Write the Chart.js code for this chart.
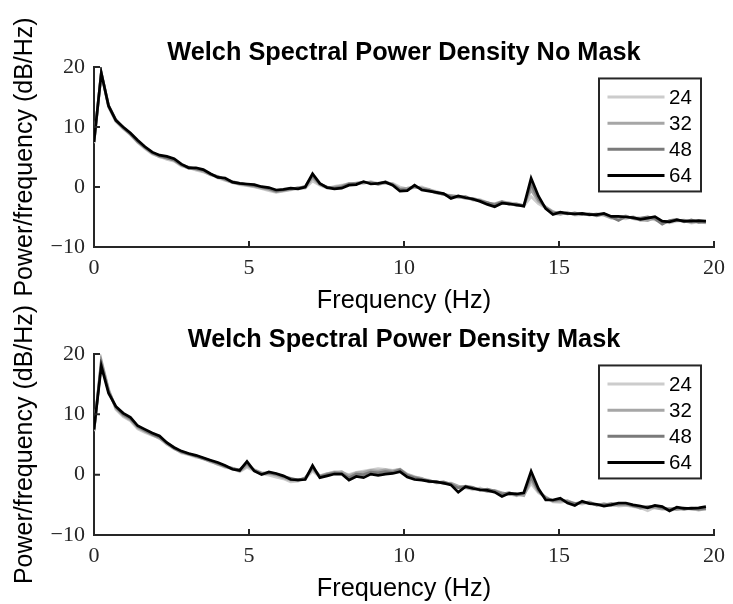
<!DOCTYPE html>
<html>
<head>
<meta charset="utf-8">
<script src="https://cdn.jsdelivr.net/npm/chart.js@4.4.1/dist/chart.umd.min.js"></script>
<style>
  body { margin: 0; background: #fff; }
  #wrap { position: relative; width: 733px; height: 604px; }
  canvas { position: absolute; left: 0; }
</style>
</head>
<body>
<div id="wrap">
  <canvas id="topChart" width="733" height="316" style="top:0"></canvas>
  <canvas id="bottomChart" width="733" height="308" style="top:296px"></canvas>
</div>
<script>
// frequency bins (Hz)
const freq = [
  0, 0.235, 0.47, 0.705, 0.94, 1.175, 1.41, 1.645, 1.88, 2.115,
  2.35, 2.585, 2.82, 3.055, 3.29, 3.525, 3.76, 3.995, 4.23, 4.465,
  4.7, 4.935, 5.17, 5.405, 5.64, 5.875, 6.11, 6.345, 6.58, 6.815,
  7.05, 7.285, 7.52, 7.755, 7.99, 8.225, 8.46, 8.695, 8.93, 9.165,
  9.4, 9.635, 9.87, 10.105, 10.34, 10.575, 10.81, 11.045, 11.28, 11.515,
  11.75, 11.985, 12.22, 12.455, 12.69, 12.925, 13.16, 13.395, 13.63, 13.865,
  14.1, 14.335, 14.57, 14.805, 15.04, 15.275, 15.51, 15.745, 15.98, 16.215,
  16.45, 16.685, 16.92, 17.155, 17.39, 17.625, 17.86, 18.095, 18.33, 18.565,
  18.8, 19.035, 19.27, 19.505, 19.74
];

const seriesNames = ["24", "32", "48", "64"];
const lineColors = ["#cccccc", "#a6a6a6", "#7a7a7a", "#000000"];
const xTicks = [0, 5, 10, 15, 20];
const yTicks = [-10, 0, 10, 20];

// No Mask
const noMask24 = [
  7.3, 18.9, 13.3, 10.9, 9.7, 8.7, 7.4, 6.4, 5.5, 5.1,
  4.6, 4.3, 3.5, 3.2, 2.8, 2.5, 2.1, 1.5, 1.1, 0.8,
  0.4, 0.2, 0.0, -0.3, -0.6, -0.9, -0.7, -0.5, -0.3, -0.2,
  1.0, 0.3, -0.2, 0.1, 0.3, 0.4, 0.7, 0.6, 0.9, 0.6,
  0.6, 0.6, 0.0, -0.3, -0.1, 0.0, -0.5, -0.7, -1.2, -1.5,
  -1.5, -1.7, -2.2, -2.1, -2.6, -2.9, -2.6, -2.6, -2.9, -3.2,
  -1.6, -2.8, -3.5, -4.4, -4.6, -4.2, -4.7, -4.6, -4.4, -4.7,
  -4.6, -5.1, -5.2, -5.3, -4.9, -5.6, -5.3, -5.5, -5.8, -6.0,
  -5.7, -5.6, -6.0, -5.8, -6.0
];
const noMask32 = [
  7.4, 19.0, 13.4, 11.0, 9.8, 8.9, 7.5, 6.5, 5.6, 5.0,
  4.9, 4.4, 3.6, 3.1, 3.0, 2.6, 2.0, 1.8, 1.2, 0.7,
  0.5, 0.3, 0.1, -0.2, -0.4, -0.8, -0.6, -0.4, -0.1, -0.1,
  1.5, 0.4, -0.1, 0.0, 0.2, 0.6, 0.5, 0.7, 0.8, 0.4,
  0.7, 0.5, -0.3, -0.2, 0.0, -0.2, -0.4, -0.9, -1.3, -1.4,
  -1.6, -1.9, -1.9, -2.2, -2.7, -2.8, -2.4, -2.7, -3.1, -3.0,
  -0.5, -2.4, -3.3, -4.1, -4.5, -4.3, -4.6, -4.4, -4.7, -4.5,
  -4.7, -5.2, -5.1, -4.8, -5.3, -5.5, -5.6, -5.1, -5.9, -5.7,
  -5.6, -5.5, -5.9, -5.7, -5.9
];
const noMask48 = [
  7.5, 19.0, 13.6, 11.2, 9.9, 8.8, 7.6, 6.6, 5.7, 5.2,
  4.8, 4.5, 3.7, 3.3, 3.0, 2.8, 2.1, 1.7, 1.3, 0.9,
  0.6, 0.4, 0.2, 0.0, -0.3, -0.7, -0.5, -0.3, -0.2, 0.1,
  1.9, 0.5, 0.0, -0.2, 0.0, 0.5, 0.6, 0.8, 0.7, 0.5,
  0.9, 0.4, -0.4, -0.5, 0.1, -0.3, -0.6, -1.0, -1.2, -1.6,
  -1.7, -1.6, -2.1, -2.3, -2.6, -3.0, -2.5, -2.9, -2.8, -3.1,
  0.4, -2.0, -3.5, -4.3, -4.3, -4.5, -4.3, -4.6, -4.5, -4.8,
  -4.5, -5.0, -5.6, -4.9, -5.2, -5.2, -5.0, -5.3, -6.2, -5.6,
  -5.4, -5.8, -5.5, -5.9, -5.8
];
const noMask64 = [
  7.5, 19.0, 13.5, 11.1, 10.0, 9.0, 7.8, 6.7, 5.8, 5.3,
  5.1, 4.7, 3.8, 3.2, 3.2, 2.9, 2.2, 1.6, 1.5, 0.8,
  0.6, 0.5, 0.4, 0.05, -0.1, -0.5, -0.4, -0.2, -0.3, 0.0,
  2.2, 0.6, -0.1, -0.3, -0.2, 0.3, 0.4, 0.9, 0.5, 0.6,
  0.8, 0.3, -0.7, -0.6, 0.3, -0.5, -0.7, -0.9, -1.1, -1.9,
  -1.5, -1.8, -2.0, -2.4, -2.9, -3.3, -2.7, -2.8, -3.0, -3.2,
  1.45, -1.5, -3.6, -4.6, -4.2, -4.4, -4.5, -4.4, -4.6, -4.6,
  -4.4, -4.9, -4.9, -5.0, -5.1, -5.4, -5.2, -4.95, -5.7, -5.8,
  -5.5, -5.7, -5.7, -5.6, -5.7
];

// Mask
const mask24 = [
  7.2, 19.0, 14.2, 10.8, 9.6, 8.9, 7.6, 7.0, 6.5, 6.1,
  5.0, 4.4, 3.6, 3.3, 2.9, 2.7, 2.1, 1.8, 1.2, 1.0,
  0.5, 1.2, 0.6, 0.1, -0.1, -0.4, -0.7, -1.2, -1.1, -0.7,
  0.6, -0.4, 0.1, 0.5, 0.3, 0.0, 0.4, 0.6, 0.8, 1.0,
  0.9, 0.7, 0.9, 0.1, -0.3, -0.7, -0.9, -1.4, -1.3, -1.5,
  -2.0, -2.1, -2.5, -2.2, -2.7, -2.9, -3.0, -3.2, -3.5, -3.3,
  -1.5, -3.0, -3.8, -4.5, -4.6, -4.4, -4.7, -4.9, -4.6, -4.9,
  -5.1, -4.9, -5.2, -5.1, -5.3, -5.5, -6.0, -5.4, -5.6, -5.9,
  -5.7, -5.8, -5.6, -5.9, -5.6
];
const mask32 = [
  7.3, 18.8, 14.0, 11.0, 9.8, 9.1, 7.8, 7.2, 6.6, 6.0,
  5.1, 4.3, 3.7, 3.5, 3.0, 2.6, 2.2, 1.7, 1.3, 1.1,
  0.6, 1.5, 0.8, 0.3, 0.2, -0.1, -0.5, -0.9, -1.0, -0.5,
  0.9, -0.2, 0.2, 0.4, 0.5, -0.2, 0.3, 0.4, 0.7, 0.6,
  0.8, 0.6, 0.9, 0.0, -0.4, -0.6, -1.2, -1.1, -1.5, -1.4,
  -1.9, -2.2, -2.3, -2.4, -2.8, -2.6, -3.0, -3.3, -3.2, -3.5,
  -0.9, -2.8, -3.7, -4.4, -4.4, -4.3, -4.9, -4.7, -4.5, -5.1,
  -4.8, -5.1, -5.0, -5.0, -5.1, -5.6, -5.4, -5.5, -5.7, -5.6,
  -5.8, -5.5, -5.7, -5.8, -5.7
];
const mask48 = [
  7.4, 18.5, 13.8, 11.2, 10.0, 9.3, 8.0, 7.3, 6.7, 6.2,
  5.3, 4.4, 3.8, 3.4, 3.1, 2.7, 2.3, 1.9, 1.4, 1.0,
  0.8, 1.9, 0.7, 0.2, 0.3, 0.1, -0.3, -0.6, -0.9, -0.6,
  1.2, -0.3, 0.0, 0.3, 0.2, -0.5, 0.1, 0.0, 0.4, 0.3,
  0.5, 0.4, 0.8, -0.1, -0.5, -0.8, -1.0, -1.3, -1.2, -1.6,
  -2.2, -1.9, -2.1, -2.6, -2.4, -2.7, -3.2, -3.0, -3.4, -3.1,
  -0.4, -2.6, -3.9, -4.3, -4.1, -4.5, -4.8, -4.6, -4.7, -5.0,
  -5.0, -4.8, -4.9, -4.8, -5.2, -5.4, -5.3, -5.2, -5.5, -5.8,
  -5.5, -5.7, -5.5, -5.7, -5.6
];
const mask64 = [
  7.5, 18.0, 13.5, 11.3, 10.2, 9.5, 8.1, 7.5, 6.9, 6.4,
  5.3, 4.5, 3.9, 3.5, 3.2, 2.8, 2.4, 2.0, 1.5, 0.9,
  0.7, 2.2, 0.6, 0.0, 0.45, 0.2, -0.2, -0.8, -0.85, -0.8,
  1.5, -0.5, -0.2, 0.1, 0.1, -0.9, -0.3, -0.5, 0.1, -0.1,
  0.1, 0.2, 0.5, -0.4, -0.8, -0.9, -1.1, -1.2, -1.4, -1.7,
  -2.9, -2.0, -2.3, -2.5, -2.6, -2.9, -3.6, -3.1, -3.2, -3.0,
  0.55, -2.3, -4.2, -4.2, -3.9, -4.7, -5.1, -4.4, -4.8, -4.9,
  -5.2, -5.0, -4.7, -4.7, -5.0, -5.2, -5.5, -5.1, -5.3, -6.0,
  -5.4, -5.6, -5.6, -5.5, -5.3
];

const axisColor = "#262626";
const sansFont = "'Liberation Sans', Arial, Helvetica, sans-serif";
const serifFont = "'Liberation Serif', 'Times New Roman', serif";

// ticks drawn inside the axes, like matlab
const inwardTicks = {
  id: "inwardTicks",
  afterDatasetsDraw(chart) {
    const { ctx, chartArea: a, scales: { x, y } } = chart;
    ctx.save();
    ctx.strokeStyle = axisColor;
    ctx.lineWidth = 2;
    ctx.beginPath();
    x.ticks.forEach(t => {
      const px = x.getPixelForValue(t.value);
      ctx.moveTo(px, a.bottom);
      ctx.lineTo(px, a.bottom - 6);
    });
    y.ticks.forEach(t => {
      const py = y.getPixelForValue(t.value);
      ctx.moveTo(a.left, py);
      ctx.lineTo(a.left + 6, py);
    });
    ctx.stroke();
    ctx.restore();
  }
};

// boxed legend with line samples, top right inside the axes
const lineLegend = {
  id: "lineLegend",
  afterDraw(chart) {
    const { ctx, chartArea: a } = chart;
    const w = 102, h = 113, rowH = 26.2;
    const x0 = a.right - 13 - w, y0 = a.top + 11.5;
    ctx.save();
    ctx.fillStyle = "#fff";
    ctx.fillRect(x0, y0, w, h);
    ctx.strokeStyle = axisColor;
    ctx.lineWidth = 2;
    ctx.strokeRect(x0, y0, w, h);
    ctx.font = "20.5px " + sansFont;
    ctx.textBaseline = "middle";
    chart.data.datasets.forEach((ds, i) => {
      const cy = y0 + 18.5 + i * rowH;
      ctx.strokeStyle = ds.borderColor;
      ctx.lineWidth = 3;
      ctx.beginPath();
      ctx.moveTo(x0 + 8.5, cy);
      ctx.lineTo(x0 + 65.5, cy);
      ctx.stroke();
      ctx.fillStyle = "#000";
      ctx.fillText(ds.label, x0 + 70, cy + 1);
    });
    ctx.restore();
  }
};

function makeSets(rows) {
  return seriesNames.map((name, i) => ({
    label: name,
    data: freq.map((f, k) => ({ x: f, y: rows[i][k] })),
    borderColor: lineColors[i],
    borderWidth: 2.7,
    pointRadius: 0,
    tension: 0,
    order: seriesNames.length - i
  }));
}

function makeChart(id, title, rows, titlePad, xAxisHeight) {
  new Chart(document.getElementById(id), {
    type: "line",
    data: { datasets: makeSets(rows) },
    options: {
      responsive: false,
      animation: false,
      devicePixelRatio: 1,
      layout: { padding: { left: 0, right: 14, top: 0, bottom: 0 } },
      plugins: {
        legend: { display: false },
        tooltip: { enabled: false },
        title: {
          display: true,
          fullSize: false,
          text: title,
          color: "#000",
          font: { family: sansFont, size: 25.3, weight: "bold" },
          padding: titlePad
        }
      },
      scales: {
        x: {
          type: "linear",
          min: 0,
          max: 20,
          afterBuildTicks: s => { s.ticks = xTicks.map(v => ({ value: v })); },
          afterFit: s => { s.height = xAxisHeight; },
          grid: { display: false, drawTicks: false },
          border: { display: true, color: axisColor, width: 2 },
          ticks: { padding: 8, color: axisColor, font: { family: serifFont, size: 22 } },
          title: {
            display: true,
            text: "Frequency (Hz)",
            color: "#000",
            font: { family: sansFont, size: 25.3 },
            padding: { top: 0, bottom: 0 }
          }
        },
        y: {
          min: -10,
          max: 20,
          afterBuildTicks: s => { s.ticks = yTicks.map(v => ({ value: v })); },
          afterFit: s => { s.width = 94; },
          grid: { display: false, drawTicks: false },
          border: { display: true, color: axisColor, width: 2 },
          ticks: {
            padding: 9,
            color: axisColor,
            font: { family: serifFont, size: 22 },
            callback: v => v < 0 ? "\u2212" + Math.abs(v) : String(v)
          },
          title: {
            display: true,
            text: "Power/frequency (dB/Hz)",
            color: "#000",
            font: { family: sansFont, size: 25 },
            padding: { top: 10, bottom: 0 }
          }
        }
      }
    },
    plugins: [inwardTicks, lineLegend]
  });
}

makeChart("topChart", "Welch Spectral Power Density No Mask",
  [noMask24, noMask32, noMask48, noMask64], { top: 37.6, bottom: -1 }, 69);
makeChart("bottomChart", "Welch Spectral Power Density Mask",
  [mask24, mask32, mask48, mask64], { top: 28.8, bottom: -1.2 }, 69);
</script>
</body>
</html>
